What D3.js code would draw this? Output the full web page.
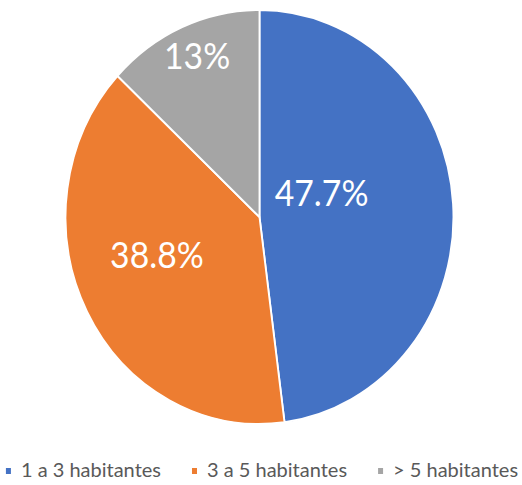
<!DOCTYPE html>
<html>
<head>
<meta charset="utf-8">
<script src="https://cdn.jsdelivr.net/npm/d3@7"></script>
<style>
  html, body { margin: 0; padding: 0; background: #fff; }
  svg { display: block; }
</style>
</head>
<body>
<div id="chart"></div>
<script>
const categories = ['1 a 3 habitantes', '3 a 5 habitantes', '> 5 habitantes']
const values     = [47.7, 38.8, 13]
const labels     = ['47.7%', '38.8%', '13%']
const colors     = ['#4472c4', '#ed7d31', '#a5a5a5']

const width = 522, height = 485
const cx = 259.5, cy = 217
const R = 207
const SX = 0.937   // the original picture is squeezed horizontally

// label placement (radius fraction, angle shift in degrees from slice middle)
const LABEL_LAYOUT = [
  { r: 0.34, shift: -16 },
  { r: 0.56, shift: 8 },
  { r: 0.84, shift: 1 },
]

const svg = d3.select('#chart').append('svg')
  .attr('width', width)
  .attr('height', height)

const data = categories.map((c, i) => ({ cat: c, value: values[i], label: labels[i], color: colors[i] }))

const pie = d3.pie().value(d => d.value).sort(null)
const arcs = pie(data)
const arc = d3.arc().innerRadius(0).outerRadius(R)

const g = svg.append('g')
  .attr('transform', `translate(${cx},${cy}) scale(${SX},1)`)

g.selectAll('path.slice')
  .data(arcs)
  .join('path')
  .attr('class', 'slice')
  .attr('d', arc)
  .attr('fill', d => d.data.color)
  .attr('stroke', '#fff')
  .attr('stroke-width', 2)
  .attr('stroke-linejoin', 'round')

// ── labels ─────────────────────────────────────────────
g.selectAll('text.lbl')
  .data(arcs)
  .join('text')
  .attr('class', 'lbl')
  .attr('transform', (d, i) => {
    const lay = LABEL_LAYOUT[i]
    const a = (d.startAngle + d.endAngle) / 2 + lay.shift * Math.PI / 180
    const r = R * lay.r
    return `translate(${r * Math.sin(a)},${-r * Math.cos(a)})`
  })
  .attr('text-anchor', 'middle')
  .attr('dy', '0.36em')
  .style('font-family', 'Lato, "Open Sans", sans-serif')
  .style('font-size', '36px')
  .style('fill', '#fff')
  .text(d => d.data.label)

// ── legend ─────────────────────────────────────────────
const legend = svg.append('g').attr('transform', 'translate(0,471)')
const items = legend.selectAll('g.item').data(data).join('g').attr('class', 'item')
items.append('rect')
  .attr('width', 5).attr('height', 6)
  .attr('y', -3)
  .attr('fill', d => d.color)
items.append('text')
  .attr('x', 15)
  .attr('y', 6)
  .style('font-family', 'Lato, "Open Sans", sans-serif')
  .style('font-size', '20px')
  .style('fill', '#595959')
  .text(d => d.cat)

const gap = 31
let x = 0
const offsets = []
items.each(function () {
  offsets.push(x)
  const w = d3.select(this).select('text').node().getComputedTextLength()
  x += 15 + w + gap
})
const total = x - gap
const start = (width - total) / 2 + 1
items.attr('transform', (d, i) => `translate(${start + offsets[i]},0)`)
</script>
</body>
</html>
